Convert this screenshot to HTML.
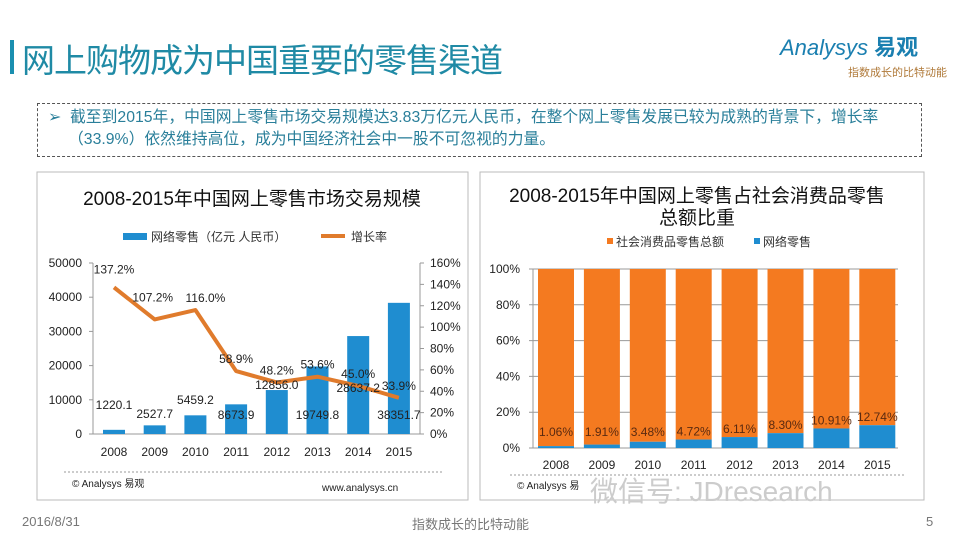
<!DOCTYPE html>
<html><head><meta charset="utf-8"><style>
body{margin:0;width:960px;height:540px;background:#fff;overflow:hidden;position:relative;font-family:"Liberation Sans","Noto Sans CJK SC",sans-serif}
.abs{position:absolute}
</style></head><body>
<div class="abs" style="left:10px;top:40px;width:4px;height:34px;background:#1a8fb0"></div>
<div class="abs" style="left:22px;top:34px;font-size:33px;color:#1f8aa5;letter-spacing:-1px">网上购物成为中国重要的零售渠道</div>
<div class="abs" style="left:780px;top:30px;font-size:22px;color:#1a7fb0;font-style:italic">Analysys <b style="font-style:normal">易观</b></div>
<div class="abs" style="left:848px;top:64px;font-size:11px;color:#b07a3a">指数成长的比特动能</div>
<div class="abs" style="left:37px;top:103px;width:885px;height:54px;border:1px dashed #555;font-size:15.8px;color:#2a7f9a;line-height:22px;padding:3px 0 0 0;box-sizing:border-box;white-space:nowrap">
<div style="padding-left:10px">➢&nbsp; 截至到2015年，中国网上零售市场交易规模达3.83万亿元人民币，在整个网上零售发展已较为成熟的背景下，增长率</div>
<div style="padding-left:30px">（33.9%）依然维持高位，成为中国经济社会中一股不可忽视的力量。</div></div>
<svg class="abs" style="left:0;top:0" width="960" height="540" id="svg">
<rect x="37" y="172" width="431" height="328" fill="none" stroke="#bbb"/>
<rect x="480" y="172" width="444" height="328" fill="none" stroke="#bbb"/>
<g id="g" font-family="Liberation Sans, Noto Sans CJK SC, sans-serif"></g>
</svg>
<div class="abs" style="left:22px;top:514px;font-size:13px;color:#777">2016/8/31</div>
<div class="abs" style="left:412px;top:514px;font-size:13px;color:#777">指数成长的比特动能</div>
<div class="abs" style="left:926px;top:514px;font-size:13px;color:#777">5</div>
<div class="abs" style="left:590px;top:470px;font-size:28px;color:#ccc">微信号: JDresearch</div>
<script>
const years=['2008','2009','2010','2011','2012','2013','2014','2015'];
const sales=[1220.1,2527.7,5459.2,8673.9,12856.0,19749.8,28637.2,38351.7];
const growth=[137.2,107.2,116.0,58.9,48.2,53.6,45.0,33.9];
const share=[1.06,1.91,3.48,4.72,6.11,8.30,10.91,12.74];
const leftTicks=[0,10000,20000,30000,40000,50000];
const rightTicks=[0,20,40,60,80,100,120,140,160];
const shareTicks=[0,20,40,60,80,100];
const NS='http://www.w3.org/2000/svg',g=document.getElementById('g');
function el(t,a,txt){const e=document.createElementNS(NS,t);for(const k in a)e.setAttribute(k,a[k]);if(txt!==undefined)e.textContent=txt;g.appendChild(e);return e;}
const y0=434,yT=263,lx0=93,lx1=420;
const yL=v=>y0-(v/50000)*(y0-yT), yR=v=>y0-(v/160)*(y0-yT), xL=i=>114+i*40.7;
const salesLabelY=[409,418,404,419,389,419,392,419];
let e=el('text',{x:252,y:205,'font-size':19,'text-anchor':'middle',fill:'#111'},'2008-2015年中国网上零售市场交易规模');

e=el('rect',{x:123,y:233,width:24,height:7,fill:'#1f8dd0'});
e=el('text',{x:151,y:241,'font-size':12,fill:'#333'},'网络零售（亿元 人民币）');
e=el('line',{x1:321,y1:236,x2:345,y2:236,stroke:'#e07b2c','stroke-width':4});
e=el('text',{x:351,y:241,'font-size':12,fill:'#333'},'增长率');
e=el('line',{x1:lx0,y1:yT,x2:lx0,y2:y0,stroke:'#999'});
e=el('line',{x1:lx1,y1:yT,x2:lx1,y2:y0,stroke:'#999'});
e=el('line',{x1:lx0,y1:y0,x2:lx1,y2:y0,stroke:'#999'});
leftTicks.forEach(v=>{e=el('text',{x:82,y:yL(v)+4,'font-size':12,'text-anchor':'end',fill:'#222'},String(v));
el('line',{x1:lx0-4,y1:yL(v),x2:lx0,y2:yL(v),stroke:'#999'});});
rightTicks.forEach(v=>{e=el('text',{x:430,y:yR(v)+4,'font-size':12,fill:'#222'},v+'%');
el('line',{x1:lx1,y1:yR(v),x2:lx1+4,y2:yR(v),stroke:'#999'});});
sales.forEach((v,i)=>{e=el('rect',{x:xL(i)-11,y:yL(v),width:22,height:y0-yL(v),fill:'#1f8dd0'});});
let pts=growth.map((v,i)=>xL(i)+','+yR(v)).join(' ');
e=el('polyline',{points:pts,fill:'none',stroke:'#e07b2c','stroke-width':4,'stroke-linejoin':'round'});
sales.forEach((v,i)=>{e=el('text',{x:xL(i),y:salesLabelY[i],'font-size':12,'text-anchor':'middle',fill:'#222'},v.toFixed(1));
});
growth.forEach((v,i)=>{e=el('text',{x:xL(i)+(i==1?-2:i==2?10:0),y:yR(v)-(i==0?14:i==1?18:8),'font-size':12,'text-anchor':'middle',fill:'#222'},v.toFixed(1)+'%');
});
years.forEach((y,i)=>{e=el('text',{x:xL(i),y:456,'font-size':12,'text-anchor':'middle',fill:'#222'},y);});
el('line',{x1:64,y1:472,x2:443,y2:472,stroke:'#999','stroke-dasharray':'2,2'});
e=el('text',{x:72,y:487,'font-size':10,fill:'#222'},'© Analysys 易观');
e=el('text',{x:322,y:491,'font-size':10,fill:'#222'},'www.analysys.cn');
const ry0=448,ryT=269,rx0=533,rx1=898;
const yS=v=>ry0-(v/100)*(ry0-ryT), xS=i=>556+i*45.9;
e=el('text',{x:697,y:202,'font-size':19,'text-anchor':'middle',fill:'#111'},'2008-2015年中国网上零售占社会消费品零售');
e=el('text',{x:697,y:224,'font-size':19,'text-anchor':'middle',fill:'#111'},'总额比重');
el('rect',{x:607,y:238,width:6,height:6,fill:'#f47a20'});
e=el('text',{x:616,y:246,'font-size':12,fill:'#333'},'社会消费品零售总额');
el('rect',{x:754,y:238,width:6,height:6,fill:'#1f8dd0'});
e=el('text',{x:763,y:246,'font-size':12,fill:'#333'},'网络零售');
el('line',{x1:rx0,y1:ryT,x2:rx0,y2:ry0,stroke:'#999'});el('line',{x1:rx0,y1:ry0,x2:rx1,y2:ry0,stroke:'#999'});
shareTicks.forEach(v=>{e=el('text',{x:520,y:yS(v)+4,'font-size':12,'text-anchor':'end',fill:'#222'},v+'%');
el('line',{x1:rx0-4,y1:yS(v),x2:rx1,y2:yS(v),stroke:'#999'});});
share.forEach((v,i)=>{e=el('rect',{x:xS(i)-18,y:yS(100),width:36,height:yS(v)-yS(100),fill:'#f47a20'});
e=el('rect',{x:xS(i)-18,y:yS(v),width:36,height:ry0-yS(v),fill:'#1f8dd0'});
e=el('text',{x:xS(i),y:Math.min(yS(v)-4,436),'font-size':12,'text-anchor':'middle',fill:'#5a2a10'},v.toFixed(2)+'%');
e=el('text',{x:xS(i),y:469,'font-size':12,'text-anchor':'middle',fill:'#222'},years[i]);});
el('line',{x1:510,y1:475,x2:905,y2:475,stroke:'#999','stroke-dasharray':'2,2'});
e=el('text',{x:517,y:489,'font-size':10,fill:'#222'},'© Analysys 易');
</script>
</body></html>
